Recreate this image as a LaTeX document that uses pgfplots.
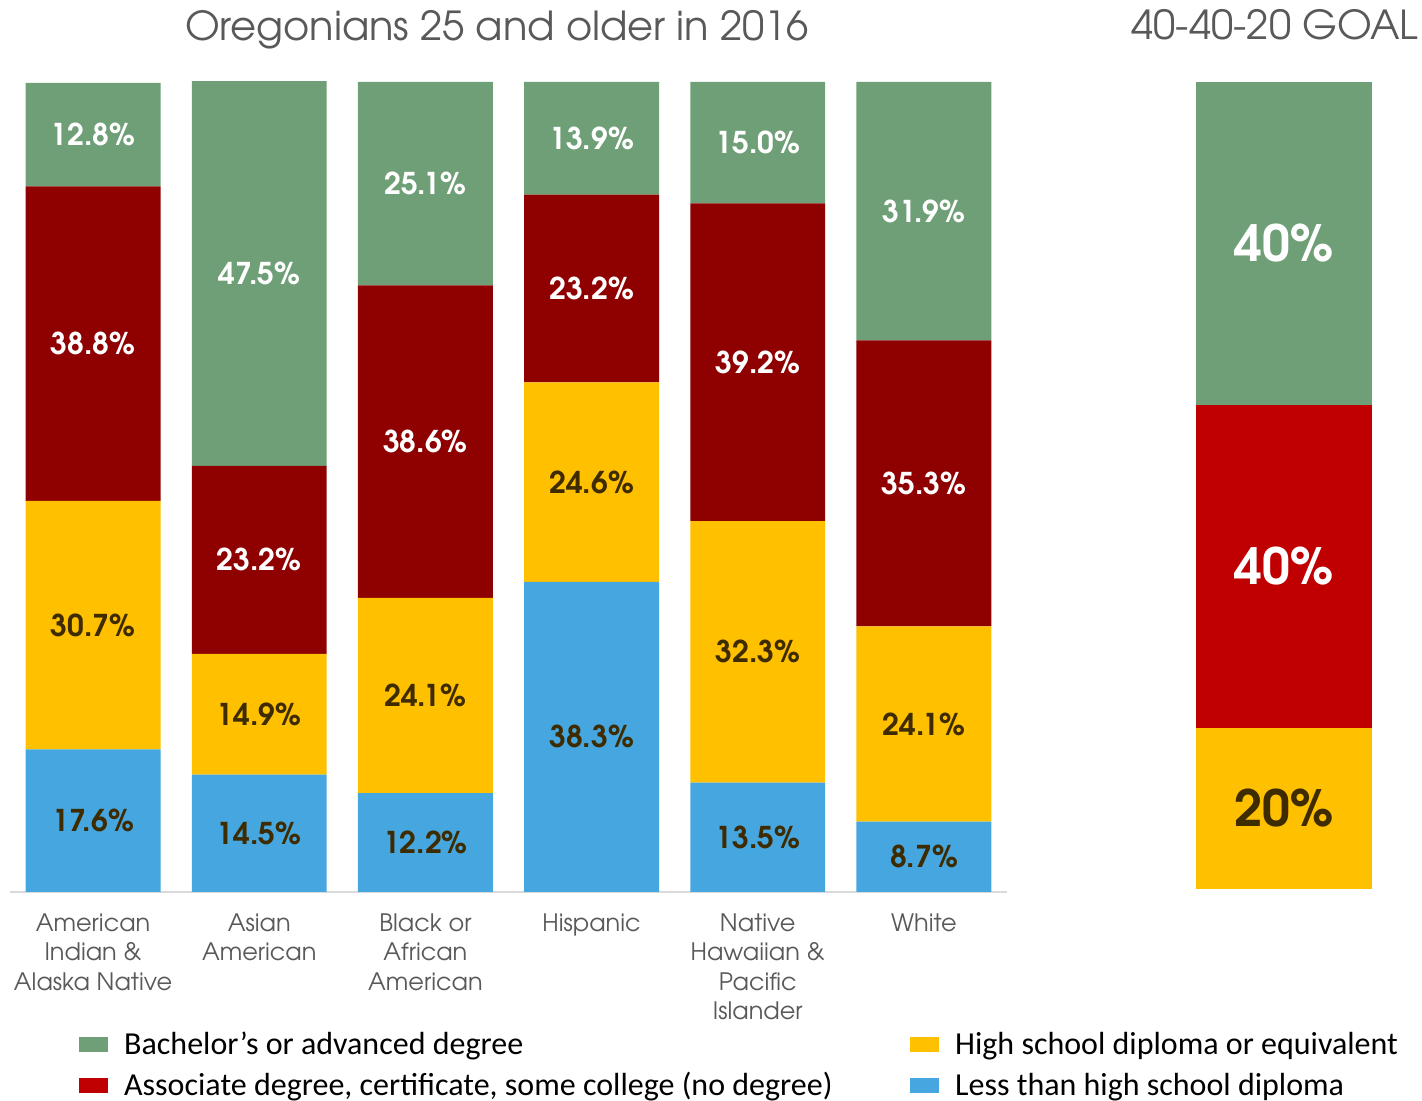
\documentclass[border=0pt]{standalone}
\usepackage{pgfplots}
\pgfplotsset{compat=1.18}
\usepackage{fontspec}
\setmainfont{TeX Gyre Adventor}
\newfontfamily\legfont{Carlito}
\definecolor{cgreen}{HTML}{6F9F77}
\definecolor{cdred}{HTML}{8F0000}
\definecolor{cyellow}{HTML}{FFC000}
\definecolor{cblue}{HTML}{46A6E0}
\definecolor{cred}{HTML}{C00000}
\definecolor{cdark}{HTML}{3F2B00}
\definecolor{tgray}{HTML}{595959}
\definecolor{agray}{HTML}{D9D9D9}
\pgfplotsset{legsq/.style={legend image code/.code={\fill[#1] (0pt,-3.5pt) rectangle (14pt,3.5pt);}}}
\begin{document}
\begin{tikzpicture}
\useasboundingbox (0,0) rectangle (711pt,550.5pt);
% main stacked bars
\begin{axis}[at={(5pt,104.5pt)}, anchor=south west,
  width=498.5pt, height=405pt, scale only axis,
  xmin=-0.5, xmax=5.5, ymin=0, ymax=100,
  ybar stacked, bar width=0.812,
  axis x line=bottom, axis y line=none,
  x axis line style={draw=agray, line width=1pt, -},
  xtick={0,1,2,3,4,5},
  xticklabels={{American\\Indian \&\\Alaska Native},{Asian\\American},{Black or\\African\\American},{Hispanic},{Native\\Hawaiian \&\\Pacific\\Islander},{White}},
  xtick style={draw=none}, major tick length=0pt, ytick=\empty,
  xticklabel style={font=\fontsize{12}{14.8}\selectfont, text=tgray, align=center, anchor=north, inner sep=0pt, yshift=-10.5pt},
  clip=false]
\addplot[fill=cblue, draw=none] coordinates {(0,17.6) (1,14.5) (2,12.2) (3,38.3) (4,13.5) (5,8.7)};
\addplot[fill=cyellow, draw=none] coordinates {(0,30.7) (1,14.9) (2,24.1) (3,24.6) (4,32.3) (5,24.1)};
\addplot[fill=cdred, draw=none] coordinates {(0,38.8) (1,23.2) (2,38.6) (3,23.2) (4,39.2) (5,35.3)};
\addplot[fill=cgreen, draw=none] coordinates {(0,12.8) (1,47.5) (2,25.1) (3,13.9) (4,15.0) (5,31.9)};
\node[font=\fontsize{20}{24}\selectfont, text=tgray] at (rel axis cs:0.5,1) [xshift=-5.75pt, yshift=26pt] {Oregonians 25 and older in 2016};
\end{axis}
% labels overlay + legend
\begin{axis}[at={(5pt,104.5pt)}, anchor=south west,
  width=498.5pt, height=405pt, scale only axis,
  xmin=-0.5, xmax=5.5, ymin=0, ymax=100, hide axis, clip=false,
  nodes near coords={\pgfplotspointmeta\%}, point meta=explicit symbolic,
  nodes near coords align=center,
  every node near coord/.append style={anchor=center, font=\bfseries\fontsize{15}{18}\selectfont},
  legend columns=2, legend cell align=left,
  legend style={at={(0.0692,-0.1674)}, anchor=north west, draw=none, fill=none, inner sep=0pt,
    font=\legfont\fontsize{16}{19}\selectfont,
    /tikz/every odd column/.append style={column sep=6pt},
    /tikz/every even column/.append style={column sep=37pt}, row sep=3.5pt}]
\addplot[forget plot, draw=none, mark=none, every node near coord/.append style={text=cdark}] table[x=x, y=y, meta=l] {
x y l
0 8.8 17.6
1 7.25 14.5
2 6.1 12.2
3 19.15 38.3
4 6.75 13.5
5 4.35 8.7
0 32.95 30.7
1 21.95 14.9
2 24.25 24.1
3 50.6 24.6
4 29.65 32.3
5 20.75 24.1
};
\addplot[forget plot, draw=none, mark=none, every node near coord/.append style={text=white}] table[x=x, y=y, meta=l] {
x y l
0 67.7 38.8
1 41.0 23.2
2 55.6 38.6
3 74.5 23.2
4 65.4 39.2
5 50.45 35.3
0 93.5 12.8
1 76.35 47.5
2 87.45 25.1
3 93.05 13.9
4 92.5 15.0
5 84.05 31.9
};
\addlegendimage{legsq=cgreen}
\addlegendentry{Bachelor’s or advanced degree}
\addlegendimage{legsq=cyellow}
\addlegendentry{High school diploma or equivalent}
\addlegendimage{legsq=cred}
\addlegendentry{Associate degree, certificate, some college (no degree)}
\addlegendimage{legsq=cblue}
\addlegendentry{Less than high school diploma}
\end{axis}
% goal bar
\begin{axis}[at={(598pt,106pt)}, anchor=south west,
  width=88pt, height=403.5pt, scale only axis,
  xmin=-0.5, xmax=0.5, ymin=0, ymax=100, hide axis, clip=false,
  ybar stacked, bar width=1]
\addplot[fill=cyellow, draw=none] coordinates {(0,20)};
\addplot[fill=cred, draw=none] coordinates {(0,40)};
\addplot[fill=cgreen, draw=none] coordinates {(0,40)};
\node[font=\fontsize{20}{24}\selectfont, text=tgray] at (rel axis cs:0.5,1) [xshift=-4.5pt, yshift=28.5pt] {40-40-20 GOAL};
\end{axis}
% goal labels
\begin{axis}[at={(598pt,106pt)}, anchor=south west,
  width=88pt, height=403.5pt, scale only axis,
  xmin=-0.5, xmax=0.5, ymin=0, ymax=100, hide axis, clip=false,
  nodes near coords={\pgfplotspointmeta\%}, point meta=explicit symbolic,
  nodes near coords align=center,
  every node near coord/.append style={anchor=center, font=\bfseries\fontsize{25}{30}\selectfont}]
\addplot[draw=none, mark=none, every node near coord/.append style={text=cdark}] table[x=x, y=y, meta=l] {
x y l
0 10 20
};
\addplot[draw=none, mark=none, every node near coord/.append style={text=white}] table[x=x, y=y, meta=l] {
x y l
0 40 40
0 80 40
};
\end{axis}
\end{tikzpicture}
\end{document}
